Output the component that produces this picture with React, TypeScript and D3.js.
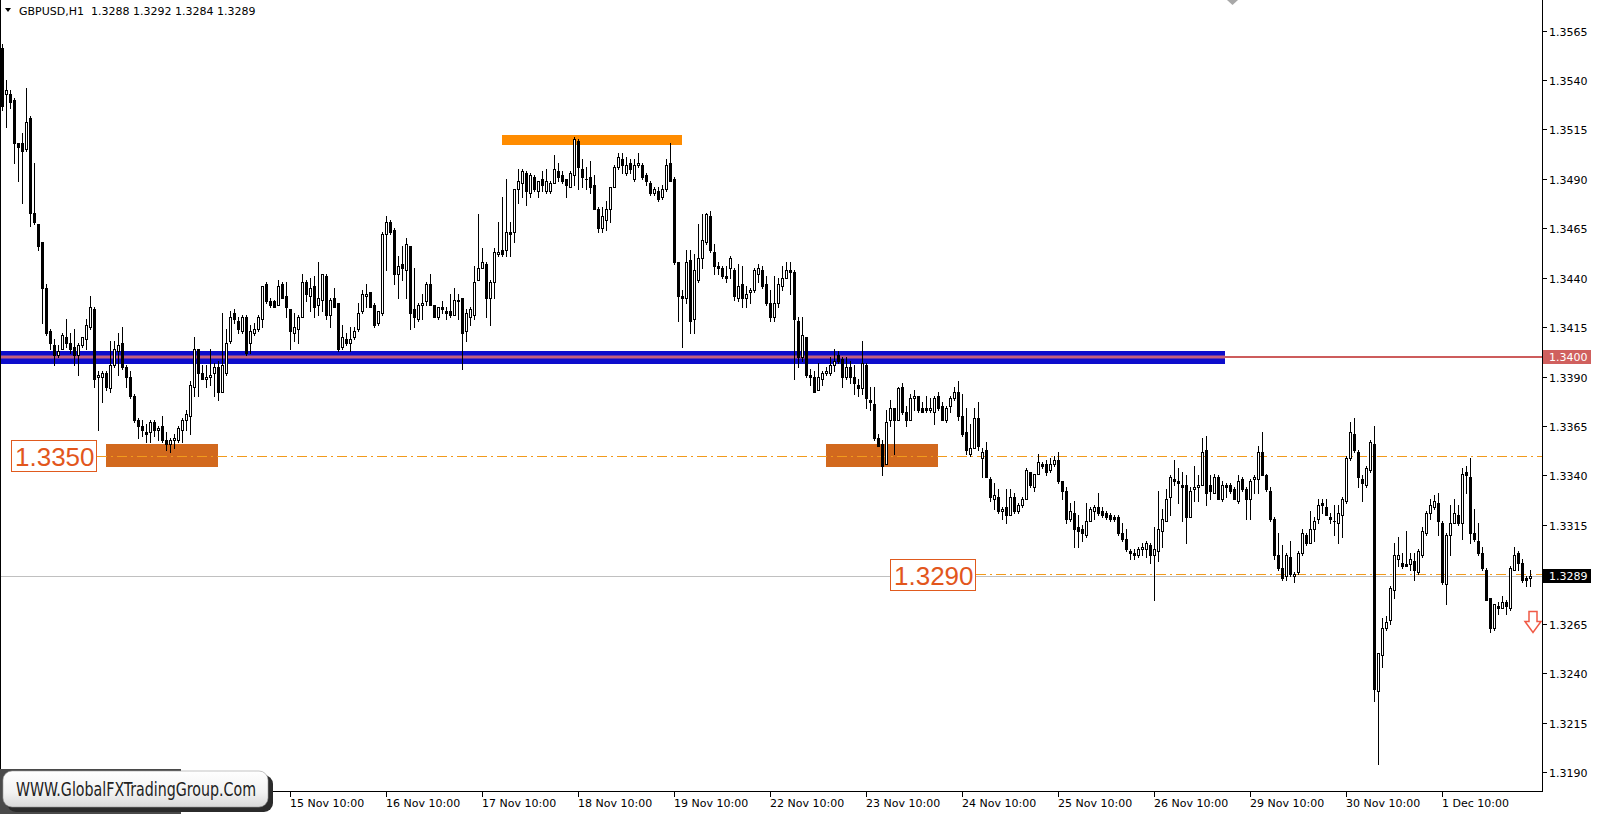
import React from "react";
import * as d3 from "d3";

// GBPUSD H1 candles (bar 0 .. bar 382)
const opens = [
1.3556,1.3533,1.3533,1.3530,1.3508,1.3508,1.3505,1.3521,1.3473,1.3467,1.3458,1.3435,1.3413,1.3406,1.3401,1.3404,1.3410,1.3407,1.3405,1.3401,
1.3406,1.3409,1.3415,1.3424,1.3390,1.3390,1.3392,1.3384,1.3396,1.3403,1.3407,1.3395,1.3390,1.3380,1.3368,1.3365,1.3362,1.3362,1.3367,1.3363,
1.3365,1.3358,1.3356,1.3358,1.3358,1.3363,1.3368,1.3370,1.3385,1.3404,1.3392,1.3389,1.3390,1.3392,1.3395,1.3382,1.3392,1.3408,1.3422,1.3418,
1.3413,1.3420,1.3407,1.3412,1.3414,1.3419,1.3437,1.3428,1.3428,1.3426,1.3437,1.3431,1.3424,1.3412,1.3414,1.3420,1.3438,1.3431,1.3436,1.3426,
1.3429,1.3441,1.3421,1.3430,1.3427,1.3405,1.3409,1.3407,1.3410,1.3414,1.3423,1.3431,1.3433,1.3426,1.3417,1.3422,1.3462,1.3468,1.3464,1.3442,
1.3447,1.3444,1.3456,1.3424,1.3419,1.3426,1.3428,1.3437,1.3426,1.3420,1.3425,1.3423,1.3423,1.3421,1.3428,1.3430,1.3413,1.3420,1.3421,1.3439,
1.3445,1.3447,1.3430,1.3438,1.3452,1.3454,1.3454,1.3463,1.3463,1.3485,1.3488,1.3493,1.3483,1.3491,1.3484,1.3490,1.3484,1.3484,1.3488,1.3494,
1.3492,1.3490,1.3486,1.3492,1.3509,1.3495,1.3490,1.3491,1.3487,1.3475,1.3465,1.3469,1.3475,1.3486,1.3496,1.3500,1.3493,1.3498,1.3490,1.3497,
1.3497,1.3492,1.3488,1.3483,1.3484,1.3481,1.3485,1.3498,1.3490,1.3448,1.3431,1.3430,1.3449,1.3419,1.3439,1.3450,1.3458,1.3471,1.3453,1.3446,
1.3445,1.3441,1.3445,1.3444,1.3430,1.3437,1.3430,1.3433,1.3434,1.3442,1.3444,1.3437,1.3427,1.3420,1.3427,1.3436,1.3440,1.3444,1.3443,1.3418,
1.3400,1.3410,1.3391,1.3390,1.3383,1.3389,1.3392,1.3392,1.3396,1.3401,1.3399,1.3390,1.3395,1.3390,1.3386,1.3384,1.3396,1.3378,1.3376,1.3359,
1.3356,1.3346,1.3368,1.3374,1.3368,1.3385,1.3372,1.3368,1.3379,1.3380,1.3374,1.3374,1.3373,1.3372,1.3380,1.3375,1.3368,1.3375,1.3379,1.3382,
1.3370,1.3362,1.3351,1.3354,1.3369,1.3349,1.3353,1.3338,1.3328,1.3329,1.3322,1.3324,1.3320,1.3329,1.3322,1.3325,1.3328,1.3342,1.3334,1.3341,
1.3346,1.3346,1.3343,1.3346,1.3348,1.3337,1.3332,1.3318,1.3321,1.3314,1.3313,1.3310,1.3317,1.3322,1.3324,1.3322,1.3321,1.3320,1.3319,1.3319,
1.3311,1.3308,1.3302,1.3301,1.3300,1.3303,1.3303,1.3305,1.3300,1.3302,1.3312,1.3317,1.3329,1.3338,1.3337,1.3335,1.3335,1.3319,1.3333,1.3334,
1.3335,1.3353,1.3335,1.3331,1.3339,1.3328,1.3335,1.3335,1.3333,1.3327,1.3338,1.3333,1.3328,1.3338,1.3338,1.3352,1.3340,1.3332,1.3318,1.3300,
1.3293,1.3289,1.3299,1.3289,1.3291,1.3301,1.3310,1.3306,1.3313,1.3318,1.3326,1.3324,1.3319,1.3317,1.3316,1.3320,1.3327,1.3349,1.3361,1.3352,
1.3338,1.3335,1.3343,1.3356,1.3231,1.3249,1.3263,1.3267,1.3282,1.3298,1.3296,1.3295,1.3295,1.3297,1.3291,1.3300,1.3311,1.3321,1.3324,1.3326,
1.3316,1.3285,1.3310,1.3316,1.3320,1.3316,1.3342,1.3339,1.3311,1.3307,1.3301,1.3292,1.3278,1.3263,1.3274,1.3273,1.3276,1.3273,1.3292,1.3301,
1.3296,1.3288,1.3288];
const highs = [
1.3558,1.3540,1.3535,1.3531,1.3508,1.3513,1.3536,1.3522,1.3498,1.3467,1.3458,1.3437,1.3414,1.3409,1.3406,1.3412,1.3419,1.3412,1.3414,1.3407,
1.3410,1.3419,1.3431,1.3425,1.3393,1.3393,1.3393,1.3408,1.3408,1.3412,1.3415,1.3396,1.3393,1.3381,1.3369,1.3368,1.3366,1.3368,1.3368,1.3365,
1.3370,1.3362,1.3359,1.3361,1.3365,1.3369,1.3373,1.3388,1.3410,1.3404,1.3396,1.3396,1.3404,1.3397,1.3398,1.3422,1.3414,1.3423,1.3424,1.3420,
1.3421,1.3421,1.3416,1.3417,1.3421,1.3436,1.3438,1.3430,1.3429,1.3439,1.3438,1.3438,1.3424,1.3422,1.3421,1.3442,1.3439,1.3440,1.3441,1.3448,
1.3442,1.3442,1.3430,1.3435,1.3427,1.3416,1.3412,1.3415,1.3415,1.3427,1.3434,1.3437,1.3433,1.3427,1.3423,1.3463,1.3471,1.3469,1.3465,1.3451,
1.3456,1.3460,1.3456,1.3445,1.3427,1.3432,1.3438,1.3442,1.3426,1.3425,1.3428,1.3425,1.3432,1.3435,1.3432,1.3430,1.3424,1.3425,1.3446,1.3472,
1.3455,1.3448,1.3439,1.3455,1.3468,1.3481,1.3490,1.3468,1.3485,1.3495,1.3495,1.3494,1.3493,1.3492,1.3489,1.3494,1.3495,1.3489,1.3502,1.3498,
1.3494,1.3490,1.3494,1.3511,1.3510,1.3500,1.3496,1.3499,1.3492,1.3476,1.3476,1.3479,1.3486,1.3497,1.3503,1.3503,1.3501,1.3500,1.3500,1.3503,
1.3498,1.3493,1.3489,1.3486,1.3486,1.3487,1.3500,1.3508,1.3491,1.3448,1.3434,1.3454,1.3454,1.3452,1.3467,1.3472,1.3473,1.3474,1.3457,1.3448,
1.3446,1.3446,1.3451,1.3445,1.3447,1.3446,1.3436,1.3435,1.3445,1.3447,1.3446,1.3441,1.3434,1.3441,1.3440,1.3446,1.3448,1.3448,1.3444,1.3420,
1.3420,1.3410,1.3394,1.3393,1.3397,1.3393,1.3395,1.3400,1.3404,1.3403,1.3400,1.3400,1.3398,1.3396,1.3389,1.3408,1.3397,1.3385,1.3385,1.3361,
1.3358,1.3373,1.3378,1.3374,1.3385,1.3387,1.3375,1.3381,1.3383,1.3380,1.3377,1.3380,1.3379,1.3380,1.3382,1.3377,1.3375,1.3380,1.3385,1.3388,
1.3381,1.3374,1.3366,1.3374,1.3377,1.3354,1.3357,1.3339,1.3336,1.3333,1.3324,1.3333,1.3333,1.3331,1.3326,1.3329,1.3344,1.3342,1.3341,1.3351,
1.3347,1.3348,1.3349,1.3350,1.3352,1.3337,1.3334,1.3326,1.3327,1.3320,1.3315,1.3326,1.3324,1.3325,1.3331,1.3324,1.3322,1.3321,1.3320,1.3320,
1.3316,1.3313,1.3303,1.3303,1.3304,1.3306,1.3307,1.3306,1.3314,1.3332,1.3323,1.3333,1.3340,1.3348,1.3344,1.3342,1.3340,1.3334,1.3345,1.3340,
1.3359,1.3360,1.3340,1.3341,1.3340,1.3337,1.3336,1.3336,1.3334,1.3340,1.3339,1.3334,1.3338,1.3340,1.3355,1.3362,1.3341,1.3334,1.3319,1.3311,
1.3305,1.3301,1.3307,1.3291,1.3302,1.3313,1.3311,1.3322,1.3319,1.3328,1.3328,1.3328,1.3321,1.3325,1.3325,1.3329,1.3350,1.3367,1.3369,1.3353,
1.3340,1.3345,1.3358,1.3365,1.3250,1.3268,1.3269,1.3284,1.3306,1.3309,1.3301,1.3312,1.3301,1.3301,1.3303,1.3314,1.3322,1.3328,1.3330,1.3331,
1.3317,1.3311,1.3325,1.3328,1.3325,1.3344,1.3345,1.3349,1.3323,1.3316,1.3304,1.3293,1.3278,1.3275,1.3276,1.3279,1.3277,1.3294,1.3304,1.3302,
1.3298,1.3289,1.3292];
const lows = [
1.3525,1.3516,1.3526,1.3498,1.3489,1.3478,1.3504,1.3466,1.3467,1.3454,1.3417,1.3411,1.3404,1.3396,1.3400,1.3404,1.3405,1.3402,1.3396,1.3391,
1.3405,1.3404,1.3414,1.3385,1.3363,1.3377,1.3383,1.3382,1.3395,1.3391,1.3394,1.3385,1.3379,1.3367,1.3359,1.3360,1.3357,1.3357,1.3360,1.3358,
1.3357,1.3353,1.3352,1.3354,1.3357,1.3357,1.3363,1.3361,1.3380,1.3380,1.3389,1.3385,1.3386,1.3380,1.3378,1.3382,1.3391,1.3407,1.3417,1.3412,
1.3412,1.3401,1.3402,1.3411,1.3413,1.3415,1.3427,1.3425,1.3425,1.3426,1.3430,1.3420,1.3404,1.3408,1.3407,1.3420,1.3428,1.3423,1.3420,1.3421,
1.3423,1.3419,1.3415,1.3425,1.3403,1.3404,1.3406,1.3403,1.3409,1.3413,1.3422,1.3425,1.3425,1.3415,1.3416,1.3421,1.3444,1.3462,1.3437,1.3430,
1.3439,1.3430,1.3414,1.3415,1.3418,1.3419,1.3426,1.3426,1.3420,1.3419,1.3422,1.3419,1.3420,1.3421,1.3419,1.3394,1.3408,1.3416,1.3419,1.3439,
1.3445,1.3420,1.3416,1.3430,1.3451,1.3451,1.3451,1.3451,1.3458,1.3478,1.3481,1.3477,1.3481,1.3484,1.3481,1.3484,1.3483,1.3483,1.3488,1.3489,
1.3488,1.3481,1.3486,1.3487,1.3485,1.3486,1.3485,1.3483,1.3475,1.3463,1.3463,1.3464,1.3468,1.3486,1.3495,1.3493,1.3492,1.3493,1.3489,1.3496,
1.3490,1.3487,1.3482,1.3482,1.3479,1.3480,1.3484,1.3489,1.3447,1.3418,1.3405,1.3427,1.3412,1.3412,1.3438,1.3445,1.3457,1.3453,1.3442,1.3442,
1.3440,1.3438,1.3440,1.3429,1.3428,1.3425,1.3425,1.3427,1.3433,1.3438,1.3435,1.3426,1.3418,1.3418,1.3425,1.3434,1.3440,1.3432,1.3389,1.3395,
1.3398,1.3390,1.3386,1.3382,1.3383,1.3386,1.3391,1.3391,1.3393,1.3397,1.3385,1.3389,1.3387,1.3381,1.3380,1.3381,1.3374,1.3373,1.3358,1.3355,
1.3340,1.3346,1.3365,1.3351,1.3368,1.3371,1.3365,1.3368,1.3373,1.3372,1.3372,1.3372,1.3372,1.3366,1.3373,1.3368,1.3367,1.3372,1.3378,1.3368,
1.3360,1.3351,1.3350,1.3354,1.3353,1.3339,1.3339,1.3327,1.3323,1.3321,1.3318,1.3316,1.3320,1.3321,1.3321,1.3324,1.3328,1.3334,1.3332,1.3341,
1.3344,1.3340,1.3342,1.3345,1.3336,1.3328,1.3316,1.3317,1.3304,1.3304,1.3307,1.3309,1.3317,1.3318,1.3320,1.3319,1.3318,1.3317,1.3317,1.3310,
1.3307,1.3302,1.3298,1.3298,1.3299,1.3300,1.3299,1.3296,1.3277,1.3297,1.3304,1.3317,1.3320,1.3335,1.3326,1.3317,1.3306,1.3319,1.3327,1.3327,
1.3335,1.3325,1.3328,1.3331,1.3328,1.3327,1.3329,1.3331,1.3328,1.3326,1.3332,1.3318,1.3318,1.3331,1.3331,1.3340,1.3332,1.3317,1.3298,1.3292,
1.3287,1.3287,1.3289,1.3286,1.3290,1.3300,1.3305,1.3306,1.3307,1.3316,1.3321,1.3320,1.3316,1.3310,1.3306,1.3309,1.3326,1.3348,1.3352,1.3334,
1.3327,1.3334,1.3342,1.3226,1.3194,1.3243,1.3262,1.3265,1.3278,1.3294,1.3293,1.3294,1.3292,1.3287,1.3290,1.3299,1.3310,1.3318,1.3323,1.3310,
1.3285,1.3275,1.3300,1.3316,1.3315,1.3308,1.3331,1.3306,1.3307,1.3300,1.3292,1.3277,1.3261,1.3262,1.3270,1.3273,1.3270,1.3272,1.3292,1.3292,
1.3286,1.3284,1.3284];
const closes = [
1.3527,1.3535,1.3529,1.3508,1.3506,1.3504,1.3519,1.3473,1.3468,1.3456,1.3435,1.3412,1.3407,1.3401,1.3403,1.3411,1.3407,1.3404,1.3401,1.3406,
1.3410,1.3416,1.3425,1.3389,1.3391,1.3392,1.3385,1.3396,1.3404,1.3406,1.3395,1.3390,1.3380,1.3368,1.3365,1.3363,1.3361,1.3367,1.3363,1.3364,
1.3358,1.3356,1.3358,1.3359,1.3364,1.3368,1.3371,1.3386,1.3404,1.3392,1.3389,1.3390,1.3391,1.3395,1.3382,1.3396,1.3407,1.3420,1.3419,1.3414,
1.3420,1.3402,1.3413,1.3414,1.3420,1.3436,1.3428,1.3426,1.3425,1.3436,1.3430,1.3425,1.3413,1.3415,1.3420,1.3438,1.3432,1.3435,1.3425,1.3430,
1.3442,1.3421,1.3429,1.3425,1.3404,1.3410,1.3407,1.3409,1.3413,1.3422,1.3432,1.3432,1.3425,1.3416,1.3423,1.3462,1.3468,1.3463,1.3442,1.3446,
1.3445,1.3457,1.3422,1.3420,1.3426,1.3427,1.3437,1.3426,1.3420,1.3425,1.3424,1.3422,1.3421,1.3429,1.3429,1.3412,1.3422,1.3424,1.3438,1.3445,
1.3448,1.3430,1.3438,1.3453,1.3453,1.3452,1.3463,1.3462,1.3485,1.3489,1.3494,1.3484,1.3492,1.3485,1.3489,1.3487,1.3489,1.3488,1.3495,1.3491,
1.3489,1.3487,1.3493,1.3510,1.3496,1.3491,1.3490,1.3486,1.3475,1.3465,1.3471,1.3475,1.3486,1.3496,1.3501,1.3497,1.3497,1.3495,1.3497,1.3498,
1.3491,1.3489,1.3483,1.3485,1.3480,1.3485,1.3497,1.3489,1.3448,1.3431,1.3430,1.3448,1.3418,1.3444,1.3450,1.3459,1.3472,1.3454,1.3446,1.3445,
1.3441,1.3440,1.3450,1.3431,1.3436,1.3430,1.3432,1.3434,1.3444,1.3445,1.3436,1.3427,1.3420,1.3427,1.3437,1.3440,1.3444,1.3443,1.3419,1.3400,
1.3411,1.3391,1.3390,1.3382,1.3390,1.3392,1.3393,1.3396,1.3398,1.3398,1.3390,1.3395,1.3390,1.3387,1.3384,1.3397,1.3379,1.3377,1.3359,1.3355,
1.3345,1.3367,1.3374,1.3368,1.3384,1.3372,1.3368,1.3379,1.3380,1.3373,1.3372,1.3373,1.3374,1.3379,1.3374,1.3368,1.3374,1.3379,1.3382,1.3370,
1.3361,1.3353,1.3354,1.3369,1.3355,1.3352,1.3339,1.3329,1.3330,1.3322,1.3323,1.3320,1.3329,1.3322,1.3325,1.3328,1.3343,1.3335,1.3341,1.3347,
1.3345,1.3342,1.3346,1.3348,1.3337,1.3332,1.3318,1.3322,1.3313,1.3312,1.3311,1.3317,1.3323,1.3324,1.3321,1.3320,1.3319,1.3318,1.3318,1.3311,
1.3308,1.3303,1.3301,1.3300,1.3303,1.3304,1.3306,1.3300,1.3303,1.3313,1.3318,1.3328,1.3339,1.3337,1.3336,1.3334,1.3319,1.3332,1.3334,1.3335,
1.3352,1.3331,1.3332,1.3339,1.3328,1.3335,1.3334,1.3332,1.3328,1.3337,1.3333,1.3328,1.3337,1.3339,1.3352,1.3340,1.3333,1.3318,1.3300,1.3293,
1.3288,1.3300,1.3290,1.3290,1.3301,1.3311,1.3306,1.3313,1.3317,1.3325,1.3325,1.3320,1.3318,1.3317,1.3321,1.3328,1.3349,1.3362,1.3353,1.3339,
1.3336,1.3344,1.3357,1.3232,1.3250,1.3263,1.3266,1.3283,1.3300,1.3300,1.3294,1.3294,1.3298,1.3292,1.3302,1.3312,1.3321,1.3325,1.3327,1.3317,
1.3286,1.3310,1.3316,1.3321,1.3316,1.3341,1.3340,1.3311,1.3308,1.3301,1.3293,1.3277,1.3263,1.3275,1.3273,1.3276,1.3274,1.3293,1.3300,1.3296,
1.3287,1.3287,1.3289];

const priceTicks = [1.3565, 1.3540, 1.3515, 1.3490, 1.3465, 1.3440, 1.3415, 1.3390, 1.3365, 1.3340, 1.3315, 1.3290, 1.3265, 1.3240, 1.3215, 1.3190];
const timeLabels = ["15 Nov 10:00", "16 Nov 10:00", "17 Nov 10:00", "18 Nov 10:00", "19 Nov 10:00", "22 Nov 10:00", "23 Nov 10:00", "24 Nov 10:00", "25 Nov 10:00", "26 Nov 10:00", "29 Nov 10:00", "30 Nov 10:00", "1 Dec 10:00"];
const timeLabelBars = [72, 96, 120, 144, 168, 192, 216, 240, 264, 288, 312, 336, 360];

const headerText = "GBPUSD,H1  1.3288 1.3292 1.3284 1.3289";
const logoText = "WWW.GlobalFXTradingGroup.Com";
const bidPrice = 1.3289;
const resistancePrice = 1.3400;
const level1 = 1.3350;
const level2 = 1.3290;
const bandTop = 1.3403;
const bandBottom = 1.33965;
const topZone = [1.3512, 1.3507];
const lowZone = [1.3356, 1.33445];
const topZoneBars = [125, 170];
const lowZoneBars1 = [26, 54];
const lowZoneBars2 = [206, 234];

const W = 1599;
const H = 814;
const plotLeft = 0;
const plotRight = 1542;
const plotBottom = 791;

export default function App() {
  const n = closes.length;
  const x = d3.scaleLinear().domain([0, n - 1]).range([2, 1530]);
  const y = d3.scaleLinear().domain([1.3190, 1.3565]).range([772.1, 30.6]);
  const ry = (p: number) => Math.round(y(p));

  const candles = [];
  for (let i = 0; i < n; i++) {
    const o = opens[i], h = highs[i], l = lows[i], c = closes[i];
    const cx = Math.round(x(i));
    const yH = ry(h), yL = ry(l);
    const yT = ry(Math.max(o, c)), yB = ry(Math.min(o, c));
    const parts = [
      <rect key="w" x={cx} y={yH} width={1} height={Math.max(1, yL - yH + 1)} fill="#000" />,
    ];
    if (yT === yB) {
      parts.push(<rect key="b" x={cx - 1} y={yT} width={3} height={1} fill="#000" />);
    } else if (c > o) {
      parts.push(<rect key="b" x={cx - 0.5} y={yT + 0.5} width={2} height={yB - yT} fill="#fff" stroke="#000" strokeWidth={1} />);
    } else {
      parts.push(<rect key="b" x={cx - 1} y={yT} width={3} height={yB - yT + 1} fill="#000" />);
    }
    candles.push(<g key={i}>{parts}</g>);
  }

  const bandX1 = 0, bandX2 = 1225;
  const yRes = y(resistancePrice);
  const yL1 = y(level1);
  const yL2 = y(level2);
  const yBid = Math.round(y(bidPrice)) + 0.5;

  const zoneRect = (bars: number[], prices: number[], color: string, key: string) => (
    <rect key={key} x={Math.round(x(bars[0]))} y={ry(prices[0])} width={Math.round(x(bars[1]) - x(bars[0]))} height={ry(prices[1]) - ry(prices[0])} fill={color} />
  );

  const axisFont = "'DejaVu Sans', Verdana, sans-serif";

  return (
    <svg width={W} height={H} style={{ position: "absolute", left: 0, top: 0, background: "#fff" }} xmlns="http://www.w3.org/2000/svg">
      <defs>
        <linearGradient id="logoGrad" x1="0" y1="0" x2="0" y2="1">
          <stop offset="0" stopColor="#ffffff" />
          <stop offset="0.6" stopColor="#f2f2f2" />
          <stop offset="1" stopColor="#d8d8d8" />
        </linearGradient>
      </defs>
      <rect x={0} y={0} width={W} height={H} fill="#fff" />

      {/* blue band around 1.3400 */}
      <rect x={bandX1} y={ry(bandTop)} width={bandX2 - bandX1} height={ry(bandBottom) - ry(bandTop)} fill="#0d0dcc" />
      <rect x={bandX1} y={Math.round(yRes) - 1.5} width={bandX2 - bandX1} height={3} fill="#c4607e" />
      <rect x={bandX2} y={Math.round(yRes) - 1} width={plotRight - bandX2} height={2} fill="#cd5c5c" />

      {/* zones */}
      {zoneRect(topZoneBars, topZone, "#ff8c00", "z1")}
      {zoneRect(lowZoneBars1, lowZone, "#d2691e", "z2")}
      {zoneRect(lowZoneBars2, lowZone, "#d2691e", "z3")}

      {/* level lines */}
      <line x1={97} x2={plotRight} y1={Math.round(yL1) + 0.5} y2={Math.round(yL1) + 0.5} stroke="#f29a1c" strokeWidth={1.2} strokeDasharray="10,4,2,4" />
      <line x1={976} x2={plotRight} y1={Math.round(yL2) + 0.5} y2={Math.round(yL2) + 0.5} stroke="#f29a1c" strokeWidth={1.2} strokeDasharray="10,4,2,4" />
      <line x1={plotLeft} x2={plotRight} y1={yBid} y2={yBid} stroke="#c0c0c0" strokeWidth={1} />

      {/* candles */}
      <g>{candles}</g>

      {/* level labels */}
      <rect x={11.5} y={440.5} width={85} height={31} fill="#fff" stroke="#e05a1e" strokeWidth={1} />
      <text x={15} y={466} fontFamily="'Liberation Sans', Arial, sans-serif" fontSize={26} fill="#e2561c">{level1.toFixed(4)}</text>
      <rect x={890.5} y={559.5} width={85} height={31} fill="#fff" stroke="#e05a1e" strokeWidth={1} />
      <text x={894} y={585} fontFamily="'Liberation Sans', Arial, sans-serif" fontSize={26} fill="#e2561c">{level2.toFixed(4)}</text>

      {/* down arrow */}
      <path d="M1529,611.5 H1537 V621.5 H1541 L1533,632.5 L1525,621.5 H1529 Z" fill="#fff" stroke="#f05a46" strokeWidth={1.5} />

      {/* frame */}
      <line x1={0.5} x2={0.5} y1={0} y2={plotBottom + 1} stroke="#000" />
      <line x1={plotRight + 0.5} x2={plotRight + 0.5} y1={0} y2={plotBottom + 1} stroke="#000" />
      <line x1={0} x2={plotRight + 1} y1={plotBottom + 0.5} y2={plotBottom + 0.5} stroke="#000" />

      {/* chart shift marker */}
      <polygon points="1227,0 1238,0 1232.5,5" fill="#a8a8a8" />

      {/* price axis */}
      {priceTicks.map((p) => {
        const yy = Math.round(y(p)) + 0.5;
        return (
          <g key={p}>
            <line x1={plotRight + 1} x2={plotRight + 5} y1={yy} y2={yy} stroke="#000" />
            <text x={1549} y={yy + 4} fontFamily={axisFont} fontSize={11} fill="#000">{p.toFixed(4)}</text>
          </g>
        );
      })}
      <rect x={plotRight + 1} y={Math.round(yRes) - 7} width={48} height={14} fill="#d0605e" />
      <text x={1549} y={Math.round(yRes) + 4} fontFamily={axisFont} fontSize={11} fill="#fff">{resistancePrice.toFixed(4)}</text>
      <rect x={plotRight + 1} y={Math.round(y(bidPrice)) - 7} width={48} height={14} fill="#000" />
      <text x={1549} y={Math.round(y(bidPrice)) + 4} fontFamily={axisFont} fontSize={11} fill="#fff">{bidPrice.toFixed(4)}</text>

      {/* time axis */}
      {timeLabels.map((t, k) => {
        const xx = Math.round(x(timeLabelBars[k])) + 0.5;
        return (
          <g key={t}>
            <line x1={xx} x2={xx} y1={plotBottom + 1} y2={plotBottom + 6} stroke="#000" />
            <text x={xx - 0.5} y={807} fontFamily={axisFont} fontSize={11} fill="#000">{t}</text>
          </g>
        );
      })}

      {/* header */}
      <polygon points="5,8 11,8 8,12" fill="#000" />
      <text x={19} y={15} fontFamily={axisFont} fontSize={11} fill="#000" style={{ whiteSpace: "pre" }}>{headerText}</text>

      {/* logo */}
      <rect x={0} y={769} width={181} height={45} fill="#4a4a4a" />
      <rect x={7} y={775} width={266} height={37} rx={9} fill="#2b2b2b" />
      <rect x={3} y={771} width={265} height={36} rx={9} fill="url(#logoGrad)" stroke="#9a9a9a" strokeWidth={0.6} />
      <text transform="translate(16,796) scale(1,1.3)" x={0} y={0} fontFamily="'DejaVu Sans Condensed', 'Liberation Sans Narrow', sans-serif" fontSize={15} textLength={240} lengthAdjust="spacingAndGlyphs" fill="#222">{logoText}</text>
    </svg>
  );
}
